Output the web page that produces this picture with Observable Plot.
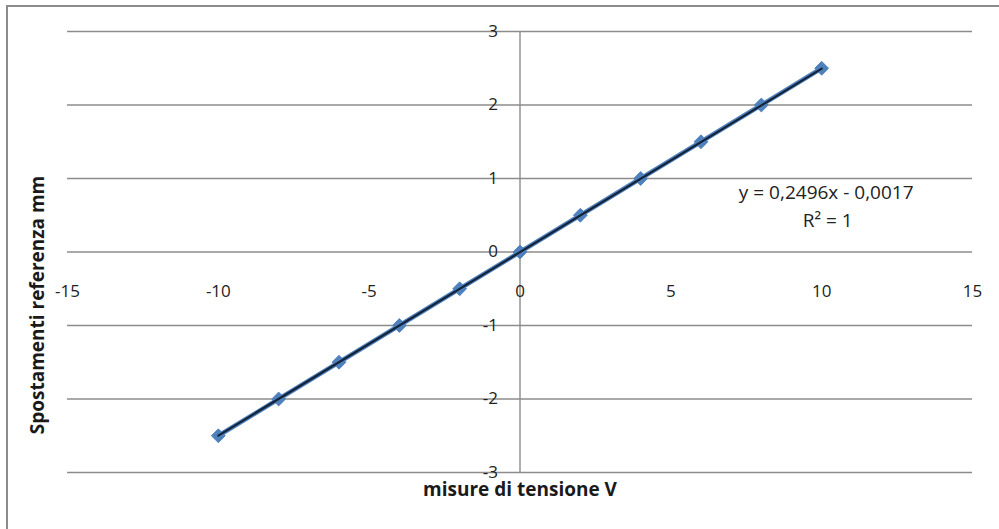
<!DOCTYPE html>
<html>
<head>
<meta charset="utf-8">
<script src="https://cdn.jsdelivr.net/npm/d3@7"></script>
<script src="https://cdn.jsdelivr.net/npm/@observablehq/plot@0.6"></script>
<style>
  html, body { margin: 0; padding: 0; background: #fff; overflow: hidden; }
  #wrap { position: relative; width: 999px; height: 529px; }
  #border { position: absolute; left: 6px; top: 5px; width: 1100px; height: 700px;
            border-left: 2px solid #8c8c8c; border-top: 2px solid #8c8c8c; box-sizing: border-box; }
  #chart { position: absolute; left: 0; top: 0; }
</style>
</head>
<body>
<div id="wrap">
  <div id="border"></div>
  <div id="chart"></div>
</div>
<script>
// Measurements: applied voltage (V) and reference displacement (mm)
const tensione = [-10, -8, -6, -4, -2, 0, 2, 4, 6, 8, 10];
const spostamento = [-2.5, -2, -1.5, -1, -0.5, 0, 0.5, 1, 1.5, 2, 2.5];

// Linear trendline coefficients
const slope = 0.2496;
const intercept = -0.0017;
const r2 = 1;

// Axis tick values
const xTicks = [-15, -10, -5, 0, 5, 10, 15];
const yTicks = [-3, -2, -1, 0, 1, 2, 3];

const points = tensione.map((x, i) => ({x, y: spostamento[i]}));
const xMin = d3.min(tensione), xMax = d3.max(tensione);
const trend = [xMin, xMax].map(x => ({x, y: slope * x + intercept}));

const fmt = v => v.toFixed(4).replace(".", ",");
const eqText = `y = ${fmt(slope)}x ${intercept < 0 ? "-" : "+"} ${fmt(Math.abs(intercept))}`;
const r2Text = `R² = ${r2}`;

const font = "'Open Sans', 'Noto Sans', sans-serif";
const grid = "#8c8c8c";

const chart = Plot.plot({
  width: 999,
  height: 529,
  marginLeft: 67,
  marginRight: 27,
  marginTop: 31,
  marginBottom: 57,
  x: {domain: [-15, 15], axis: null},
  y: {domain: [-3, 3], axis: null},
  style: {fontFamily: font, background: "transparent", overflow: "visible"},
  marks: [
    // horizontal gridlines (the y = 0 one doubles as the x axis)
    Plot.ruleY(yTicks, {stroke: grid, strokeWidth: 1.4}),
    // vertical axis through x = 0
    Plot.ruleX([0], {y1: -3, y2: 3, stroke: grid, strokeWidth: 1.4}),
    // x tick labels below the horizontal axis
    Plot.text(xTicks, {x: d => d, y: 0, dy: 40, text: d => String(d),
      fontSize: 17, fill: "#222"}),
    // y tick labels left of the vertical axis
    Plot.text(yTicks, {x: 0, y: d => d, dx: -22, textAnchor: "end", text: d => String(d),
      fontSize: 17, fill: "#222"}),
    // series line and markers
    Plot.line(points, {x: "x", y: "y", stroke: "#4F81BD", strokeWidth: 4.5}),
    Plot.dot(points, {x: "x", y: "y", symbol: "diamond2", r: 6.2, fill: "#4F81BD", stroke: "#4F81BD", strokeWidth: 1}),
    // linear trendline
    Plot.line(trend, {x: "x", y: "y", stroke: "#13243a", strokeWidth: 2.2}),
    // trendline equation
    Plot.text([eqText], {x: 10.15, y: 0.81, fontSize: 19, fill: "#222"}),
    Plot.text([r2Text], {x: 10.2, y: 0.42, fontSize: 19, fill: "#222"}),
    // axis titles
    Plot.text(["misure di tensione V"], {frameAnchor: "bottom", dy: 23, fontSize: 19, fontWeight: "bold", fill: "#1a1a1a"}),
    Plot.text(["Spostamenti referenza mm"], {frameAnchor: "left", dx: -30, dy: 53, rotate: -90, textAnchor: "middle",
      fontSize: 19, fontWeight: "bold", fill: "#1a1a1a"})
  ]
});

document.getElementById("chart").appendChild(chart);
</script>
</body>
</html>
